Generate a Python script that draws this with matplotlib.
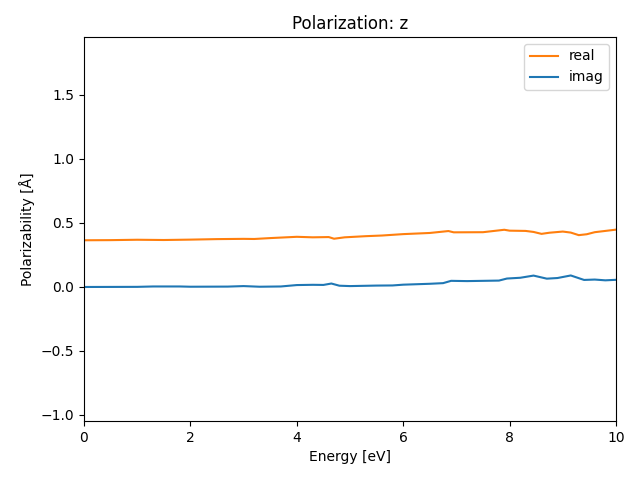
import matplotlib
matplotlib.use("Agg")
import matplotlib.pyplot as plt

energy_real = [0, 0.5, 1.0, 1.5, 2.0, 2.5, 3.0, 3.2, 3.5, 4.0, 4.3, 4.6, 4.7, 4.9, 5.3, 5.6, 6.0, 6.5,
               6.85, 6.95, 7.5, 7.9, 8.0, 8.3, 8.45, 8.6, 8.75, 9.0, 9.15, 9.3, 9.45, 9.6, 10.0]
real = [0.365, 0.366, 0.369, 0.367, 0.370, 0.374, 0.376, 0.375, 0.382, 0.392, 0.388, 0.390, 0.377,
        0.388, 0.397, 0.402, 0.413, 0.422, 0.437, 0.427, 0.428, 0.447, 0.440, 0.438, 0.430, 0.415,
        0.424, 0.433, 0.425, 0.405, 0.412, 0.428, 0.448]

energy_imag = [0, 1.0, 1.3, 1.8, 2.0, 2.7, 3.0, 3.3, 3.7, 4.0, 4.3, 4.5, 4.65, 4.8, 5.0, 5.5, 5.8,
               6.0, 6.5, 6.75, 6.9, 7.2, 7.8, 7.95, 8.2, 8.45, 8.7, 8.9, 9.15, 9.4, 9.6, 9.8, 10.0]
imag = [0.0, 0.001, 0.004, 0.004, 0.002, 0.003, 0.007, 0.002, 0.004, 0.015, 0.017, 0.016, 0.027,
        0.010, 0.007, 0.011, 0.012, 0.018, 0.025, 0.030, 0.048, 0.046, 0.050, 0.066, 0.072, 0.089,
        0.065, 0.070, 0.090, 0.055, 0.058, 0.052, 0.056]

fig, ax = plt.subplots(figsize=(6.4, 4.8), dpi=100)
ax.plot(energy_real, real, color="#ff7f0e", label="real")
ax.plot(energy_imag, imag, color="#1f77b4", label="imag")
ax.set_xlim(0, 10)
ax.set_ylim(-1.047, 1.953)
ax.set_xlabel("Energy [eV]")
ax.set_ylabel("Polarizability [Å]")
ax.set_title("Polarization: z")
ax.legend(loc="upper right")
fig.subplots_adjust(left=84/640, right=616/640, top=1-37/480, bottom=1-421/480)
fig.savefig("out.png", dpi=100)
